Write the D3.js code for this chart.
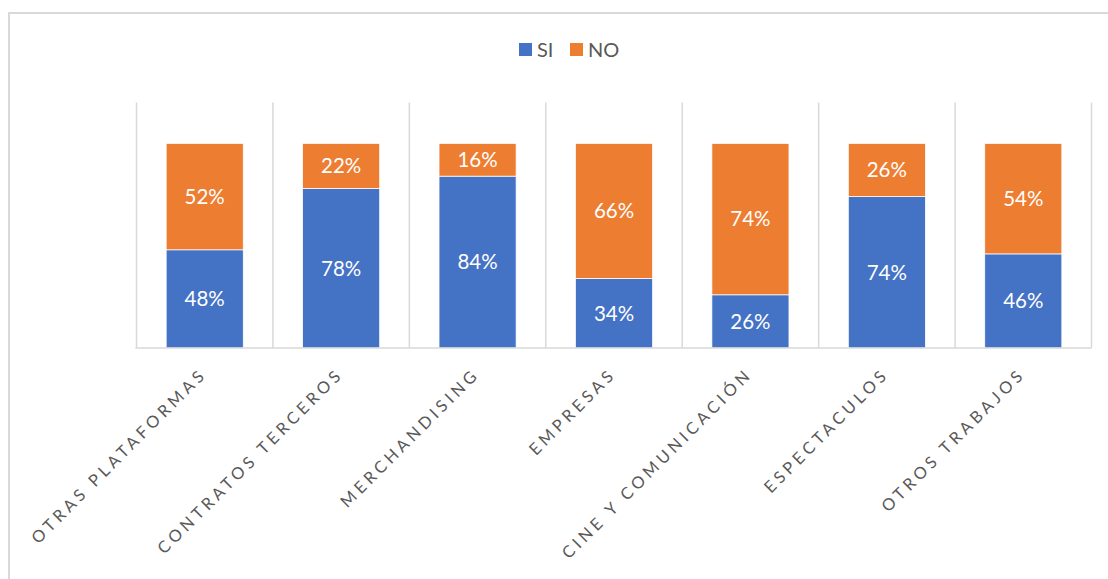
<!DOCTYPE html>
<html>
<head>
<meta charset="utf-8">
<script src="https://cdn.jsdelivr.net/npm/d3@7"></script>
<style>
  html, body { margin: 0; padding: 0; background: #fff; }
  svg { display: block; }
</style>
</head>
<body>
<svg id="chart" width="1108" height="579"></svg>
<script>
// Share of respondents answering SI / NO for each income source
const categories = [
  "OTRAS PLATAFORMAS",
  "CONTRATOS TERCEROS",
  "MERCHANDISING",
  "EMPRESAS",
  "CINE Y COMUNICACIÓN",
  "ESPECTACULOS",
  "OTROS TRABAJOS"
];
const siValues = [0.48, 0.78, 0.84, 0.34, 0.26, 0.74, 0.46];
const noValues = [0.52, 0.22, 0.16, 0.66, 0.74, 0.26, 0.54];
const seriesNames = ["SI", "NO"];
const seriesColors = ["#4472C4", "#ED7D31"];

const svg = d3.select("#chart");
const W = 1108, H = 579;

// chart frame
svg.append("path")
  .attr("d", `M9,${H} V13 H${W}`)
  .attr("fill", "none")
  .attr("stroke", "#d9d9d9")
  .attr("stroke-width", 2);

const plot = { left: 136.5, right: 1091.5, top: 102.5, bottom: 348 };

const x = d3.scaleBand()
  .domain(categories)
  .range([plot.left, plot.right])
  .paddingInner(0.435)
  .paddingOuter(0.2175);

const y = d3.scaleLinear()
  .domain([0, 1.2])
  .range([plot.bottom, plot.top]);

// vertical separators between categories
const step = x.step();
const sepX = d3.range(categories.length + 1).map(i => plot.left + i * step);
svg.append("g")
  .selectAll("line")
  .data(sepX)
  .join("line")
  .attr("x1", d => d).attr("x2", d => d)
  .attr("y1", plot.top).attr("y2", plot.bottom)
  .attr("stroke", "#d9d9d9")
  .attr("stroke-width", 1.5);

// stacked segments
const rows = categories.map((c, i) => ({ cat: c, SI: siValues[i], NO: noValues[i] }));
const stacked = d3.stack().keys(seriesNames)(rows);

const layers = svg.append("g")
  .selectAll("g")
  .data(stacked)
  .join("g")
  .attr("fill", (d, i) => seriesColors[i]);

layers.selectAll("rect")
  .data(d => d)
  .join("rect")
  .attr("x", d => x(d.data.cat))
  .attr("width", x.bandwidth())
  .attr("y", d => y(d[1]))
  .attr("height", d => y(d[0]) - y(d[1]))
  .attr("stroke", "#ffffff")
  .attr("stroke-width", 0.75);

// value labels
layers.selectAll("text")
  .data(d => d)
  .join("text")
  .attr("x", d => x(d.data.cat) + x.bandwidth() / 2)
  .attr("y", d => (y(d[0]) + y(d[1])) / 2)
  .attr("dy", "0.36em")
  .attr("text-anchor", "middle")
  .attr("fill", "#ffffff")
  .attr("font-family", "Lato, 'Noto Sans', sans-serif")
  .attr("font-size", 20.5)
  .text(d => Math.round((d[1] - d[0]) * 100) + "%");

// baseline
svg.append("line")
  .attr("x1", plot.left - 1).attr("x2", plot.right)
  .attr("y1", plot.bottom).attr("y2", plot.bottom)
  .attr("stroke", "#d9d9d9")
  .attr("stroke-width", 1.5);

// category axis labels, rotated
const xAxis = d3.axisBottom(x).tickSize(0).tickPadding(0);
const axisG = svg.append("g")
  .attr("transform", `translate(0,${plot.bottom})`)
  .call(xAxis);
axisG.select(".domain").remove();
axisG.selectAll(".tick text")
  .attr("fill", "#595959")
  .attr("font-family", "Lato, 'Noto Sans', sans-serif")
  .attr("font-size", 16.5)
  .attr("letter-spacing", "3.9px")
  .attr("text-anchor", "end")
  .attr("dy", "0.35em")
  .attr("transform", "translate(-1,23) rotate(-45)");

// legend
const legendItems = [
  { name: "SI", color: seriesColors[0], x: 519 },
  { name: "NO", color: seriesColors[1], x: 570 }
];
const lg = svg.append("g");
lg.selectAll("rect")
  .data(legendItems)
  .join("rect")
  .attr("x", d => d.x).attr("y", 43)
  .attr("width", 13).attr("height", 13)
  .attr("fill", d => d.color);
lg.selectAll("text")
  .data(legendItems)
  .join("text")
  .attr("x", d => d.x + 18)
  .attr("y", 50)
  .attr("dy", "0.36em")
  .attr("fill", "#595959")
  .attr("font-family", "Lato, 'Noto Sans', sans-serif")
  .attr("font-size", 20)
  .text(d => d.name);
</script>
</body>
</html>
